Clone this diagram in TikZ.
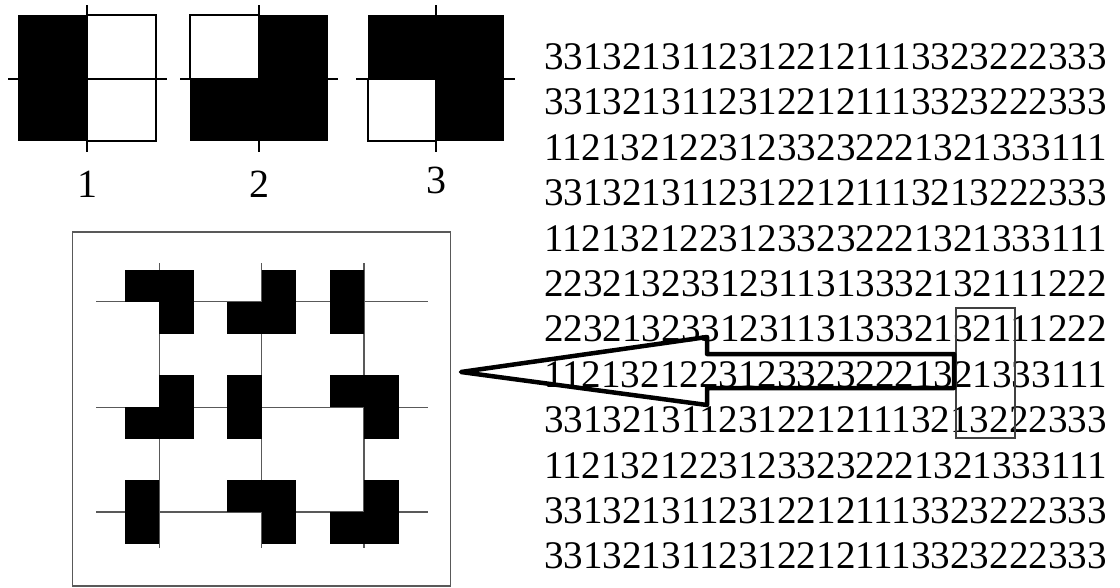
\documentclass[tikz,border=0pt]{standalone}
\usepackage{fontspec}
\setmainfont{Liberation Serif}
\tikzset{
  tickline/.style={draw=black, line width=2pt},
  whitesq/.style={draw=black, line width=1.8pt, fill=white},
  gridline/.style={draw=black!65, line width=1.4pt},
  digits/.style={inner sep=0pt, font=\fontsize{39.1pt}{45pt}\selectfont},
  numlabel/.style={inner sep=0pt, font=\fontsize{40pt}{46pt}\selectfont},
  bigframe/.style={draw=black!65, line width=1.5pt, inner sep=0pt},
  selbox/.style={draw=black!75, line width=1.3pt, inner sep=0pt},
  bigarrow/.style={draw=black, line width=4.5pt, line join=round},
  tileI/.pic={\fill (-34.5,-32) rectangle (0,32);},
  tileII/.pic={\fill (0,-32) rectangle (34.5,32); \fill (-34.5,0) rectangle (0,32);},
  tileIII/.pic={\fill (-34.5,-32) rectangle (34.5,0); \fill (0,0) rectangle (34.5,32);}
}
\begin{document}
\begin{tikzpicture}[x=1pt,y=-1pt]
\useasboundingbox[fill=white] (0,0) rectangle (1120,587);

% ---- three small tiles ----
% tile 1
\fill (18,15) rectangle (87,141);
\draw[whitesq] (87,15) rectangle (156,79);
\draw[whitesq] (87,79) rectangle (156,141);
\draw[tickline] (87,5) -- (87,152);
\draw[tickline] (8,79) -- (167,79);
% tile 2
\fill (190,15) rectangle (328,141);
\draw[whitesq] (190,15) rectangle (259,79);
\draw[tickline] (259,5) -- (259,152);
\draw[tickline] (180,79) -- (338,79);
% tile 3
\fill (368,15) rectangle (504,141);
\draw[whitesq] (368,79) rectangle (436,141);
\draw[tickline] (436,5) -- (436,152);
\draw[tickline] (356,79) -- (515,79);

\node[numlabel, anchor=base] (lab1) at (87,197) {1};
\node[numlabel, anchor=base] (lab2) at (259,197) {2};
\node[numlabel, anchor=base] (lab3) at (436,193) {3};

% ---- big square ----
\node[bigframe, minimum width=378pt, minimum height=354pt] (frame) at (261.7,408.9) {};
\foreach \yy in {301.7,407.3,512} \draw[gridline] (96,\yy) -- (428,\yy);
\foreach \xx in {159.3,261.7,364} \draw[gridline] (\xx,263) -- (\xx,548);
\pic (t11) at (159.3,301.7) {tileIII};
\pic (t12) at (261.7,301.7) {tileII};
\pic (t13) at (364,301.7) {tileI};
\pic (t21) at (159.3,407.3) {tileII};
\pic (t22) at (261.7,407.3) {tileI};
\pic (t23) at (364,407.3) {tileIII};
\pic (t31) at (159.3,512) {tileI};
\pic (t32) at (261.7,512) {tileIII};
\pic (t33) at (364,512) {tileII};

% ---- digit rows ----
\foreach \s [count=\i] in {
33132131123122121113323222333,
33132131123122121113323222333,
11213212231233232221321333111,
33132131123122121113213222333,
11213212231233232221321333111,
22321323312311313332132111222,
22321323312311313332132111222,
11213212231233232221321333111,
33132131123122121113213222333,
11213212231233232221321333111,
33132131123122121113323222333,
33132131123122121113323222333}
  \node[digits, anchor=base west] (row\i) at (544,{69.4+45.4*(\i-1)}) {\s};

% ---- selection box ----
\node[selbox, minimum width=59pt, minimum height=130pt] (sel) at (985.5,373) {};

% ---- big hollow arrow ----
\coordinate (tip) at (461,372);
\draw[bigarrow] (tip) -- (707,337) -- (707,354) -- (954,354) -- (954,388)
  -- (707,388) -- (707,405) -- cycle;
\end{tikzpicture}
\end{document}
